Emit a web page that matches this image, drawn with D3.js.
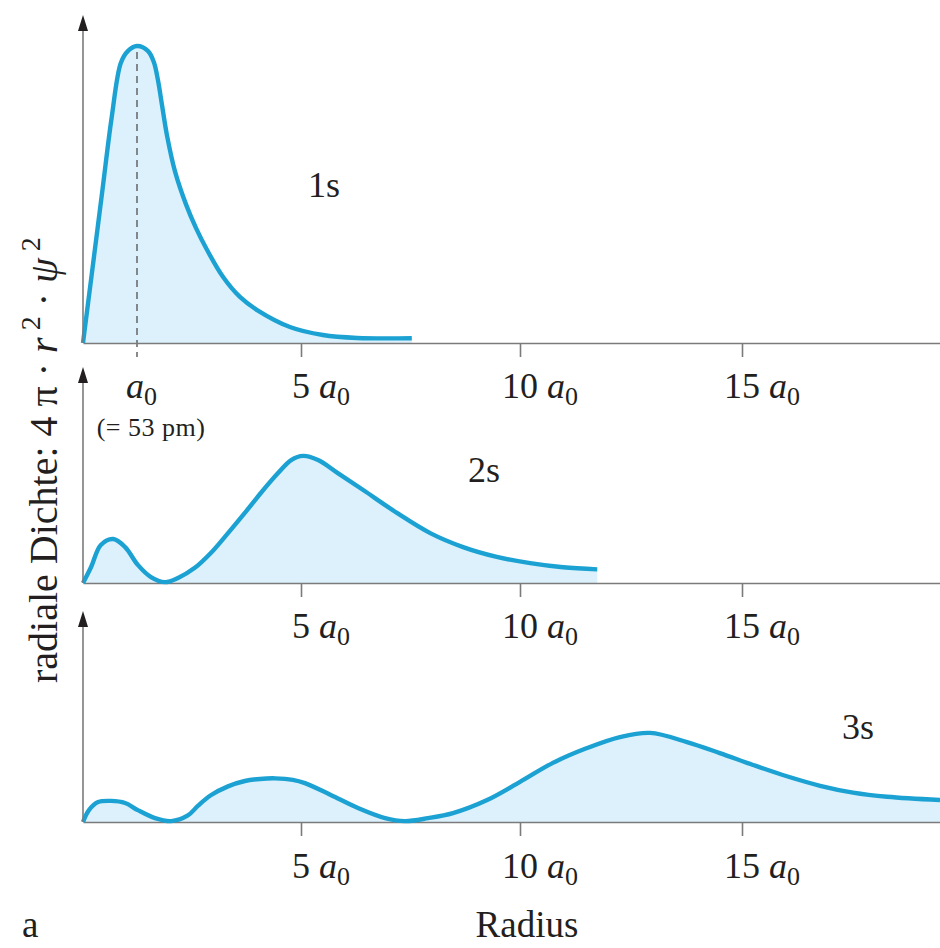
<!DOCTYPE html>
<html>
<head>
<meta charset="utf-8">
<script src="https://cdn.jsdelivr.net/npm/d3@7"></script>
<style>
  body { margin: 0; background: #fff; }
  svg { display: block; }
  text { font-family: "Liberation Serif", "Times New Roman", serif; fill: #231f20; }
</style>
</head>
<body>
<div id="chart"></div>
<script>
// Radial probability density 4πr²ψ² of the hydrogen 1s, 2s, 3s orbitals (r in units of a0).

// ── Data (density in arbitrary units, 1s peak = 100) ──

const R_1S = [0, 0.165, 0.36, 0.53, 0.70, 0.83, 1.0, 1.27, 1.41, 1.51, 1.61, 1.73, 1.93, 2.20, 2.44, 2.71, 3.10, 3.51, 3.93, 4.73, 5.5, 6.28, 7.53];
const D_1S = [0, 23.6, 51.5, 75.8, 94.3, 98.3, 100, 98.3, 94.6, 88.6, 80.1, 70.0, 57.6, 46.5, 38.7, 31.3, 22.2, 15.5, 11.1, 5.4, 2.7, 1.7, 1.6];

const R_2S = [0, 0.15, 0.33, 0.56, 0.78, 1.02, 1.34, 1.68, 2.0, 2.41, 2.80, 3.22, 3.63, 4.02, 4.44, 4.76, 5.05, 5.39, 5.84, 6.42, 7.19, 7.95, 8.70, 9.47, 10.23, 10.97, 11.74];
const D_2S = [0, 5.4, 12.8, 14.8, 12.1, 6.1, 2.0, 0.3, 1.7, 5.1, 10.1, 16.8, 23.6, 30.3, 37.0, 41.4, 42.8, 41.4, 37.0, 31.3, 23.6, 16.8, 12.1, 8.8, 6.7, 5.3, 4.6];

const R_3S = [0, 0.11, 0.28, 0.52, 0.78, 1.02, 1.44, 1.83, 2.24, 2.49, 2.80, 3.22, 3.63, 4.0, 4.37, 4.8, 5.09, 5.68, 6.30, 6.92, 7.37, 7.90, 8.47, 9.25, 10.0, 10.74, 11.51, 12.25, 12.93, 13.76, 14.50, 15.25, 16.01, 16.76, 17.50, 18.27, 19.46];
const D_3S = [0, 4.0, 6.7, 7.1, 6.4, 4.0, 1.3, 0.3, 2.2, 5.5, 9.0, 12.0, 13.8, 14.5, 14.7, 14.2, 13.1, 9.1, 4.7, 1.3, 0.3, 1.3, 3.0, 7.4, 13.5, 19.9, 24.9, 28.6, 30.0, 26.9, 23.2, 19.2, 15.4, 12.2, 9.9, 8.5, 7.4];

const TICKS_1S    = [1, 5, 10, 15];
const TICKS_OTHER = [5, 10, 15];
const TICK_NUMBER = { 1: "", 5: "5", 10: "10", 15: "15" };

const W = 940, H = 948;
const LINE_COLOR = "#1ca1d3";
const FILL_COLOR = "#dcf1fb";
const AXIS_COLOR = "#7b7b7b";

const svg = d3.select("#chart").append("svg")
  .attr("width", W)
  .attr("height", H);

// x: the figure's radius axis is not quite linear, so a piecewise scale
const x = d3.scaleLinear()
  .domain([0, 1, 5, 10, 15, 19.46])
  .range([83, 137, 301, 520, 742, W]);

const PX_PER_UNIT = 2.97;

const panels = [
  { name: "1s", r: R_1S, d: D_1S, base: 343, top: 15,  ticks: TICKS_1S,    labelY: 398, tag: [308, 197] },
  { name: "2s", r: R_2S, d: D_2S, base: 583, top: 367, ticks: TICKS_OTHER, labelY: 638, tag: [468, 482] },
  { name: "3s", r: R_3S, d: D_3S, base: 822, top: 611, ticks: TICKS_OTHER, labelY: 878, tag: [842, 739] },
];

const curve = d3.curveCatmullRom.alpha(0.5);

panels.forEach(p => {
  const y = d3.scaleLinear()
    .domain([0, 100])
    .range([p.base, p.base - 100 * PX_PER_UNIT]);

  const pts = p.r.map((r, i) => ({ r, v: p.d[i] }));
  const g = svg.append("g");

  // ── Area ────────────────────────────────────────────────────────────────
  g.append("path")
    .datum(pts)
    .attr("fill", FILL_COLOR)
    .attr("d", d3.area()
      .x(d => x(d.r))
      .y0(y(0))
      .y1(d => y(d.v))
      .curve(curve));

  // dashed marker at a0 (1s only)
  if (p.name === "1s") {
    g.append("line")
      .attr("x1", x(1)).attr("x2", x(1))
      .attr("y1", y(100) + 6).attr("y2", p.base + 14)
      .attr("stroke", "#6d6d6d")
      .attr("stroke-width", 1.6)
      .attr("stroke-dasharray", "7,5");
  }

  // ── x axis ──────────────────────────────────────────────────────────────
  const ax = g.append("g")
    .attr("transform", `translate(0,${p.base})`)
    .call(d3.axisBottom(x)
      .tickValues(p.ticks.filter(t => t !== 1))
      .tickSize(14)
      .tickSizeOuter(0)
      .tickFormat(""));
  ax.select(".domain").attr("stroke", AXIS_COLOR).attr("stroke-width", 1.6);
  ax.selectAll(".tick line").attr("stroke", AXIS_COLOR).attr("stroke-width", 1.6);

  // ── Curve ───────────────────────────────────────────────────────────────
  g.append("path")
    .datum(pts)
    .attr("fill", "none")
    .attr("stroke", LINE_COLOR)
    .attr("stroke-width", 4.4)
    .attr("stroke-linejoin", "round")
    .attr("d", d3.line()
      .x(d => x(d.r))
      .y(d => y(d.v))
      .curve(curve));

  // ── y axis with arrow ───────────────────────────────────────────────────
  g.append("line")
    .attr("x1", x(0)).attr("x2", x(0))
    .attr("y1", p.base).attr("y2", p.top + 8)
    .attr("stroke", AXIS_COLOR)
    .attr("stroke-width", 1.6);
  g.append("path")
    .attr("d", `M${x(0)},${p.top} L${x(0) - 5},${p.top + 16} L${x(0) + 5},${p.top + 16} Z`)
    .attr("fill", "#231f20");

  // ── tick labels: number centred on the tick, then "a0" ──────────────────
  p.ticks.forEach(t => {
    const num = TICK_NUMBER[t];
    const txt = g.append("text")
      .attr("y", p.labelY)
      .style("font-size", "36px");
    txt.append("tspan").text(num ? num + " " : "");
    txt.append("tspan").style("font-style", "italic").text("a");
    txt.append("tspan").attr("dy", 7).style("font-size", "26px").text("0");
    let shift;
    if (num) {
      const tmp = g.append("text").style("font-size", "36px").text(num);
      shift = tmp.node().getComputedTextLength() / 2;
      tmp.remove();
    } else {
      shift = 11;
    }
    txt.attr("x", x(t) - shift);
  });

  // orbital tag
  g.append("text")
    .attr("x", p.tag[0]).attr("y", p.tag[1])
    .style("font-size", "36px")
    .text(p.name);
});

// "(= 53 pm)" under a0
svg.append("text")
  .attr("x", 151).attr("y", 436)
  .attr("text-anchor", "middle")
  .style("font-size", "26px")
  .style("letter-spacing", "0.5px")
  .text("(= 53 pm)");

// ── Axis titles ───────────────────────────────────────────────────────────
svg.append("text")
  .attr("x", 527).attr("y", 937)
  .attr("text-anchor", "middle")
  .style("font-size", "37px")
  .text("Radius");

svg.append("text")
  .attr("x", 22).attr("y", 937)
  .style("font-size", "37px")
  .text("a");

const yl = svg.append("text")
  .attr("transform", "translate(57,683) rotate(-90)")
  .style("font-size", "40px");
yl.append("tspan").text("radiale Dichte: 4 π · ");
yl.append("tspan").style("font-style", "italic").text("r");
yl.append("tspan").attr("dy", -17).style("font-size", "28px").text(" 2");
yl.append("tspan").attr("dy", 17).text(" · ");
yl.append("tspan").style("font-style", "italic").text("ψ");
yl.append("tspan").attr("dy", -17).style("font-size", "28px").text(" 2");
</script>
</body>
</html>
